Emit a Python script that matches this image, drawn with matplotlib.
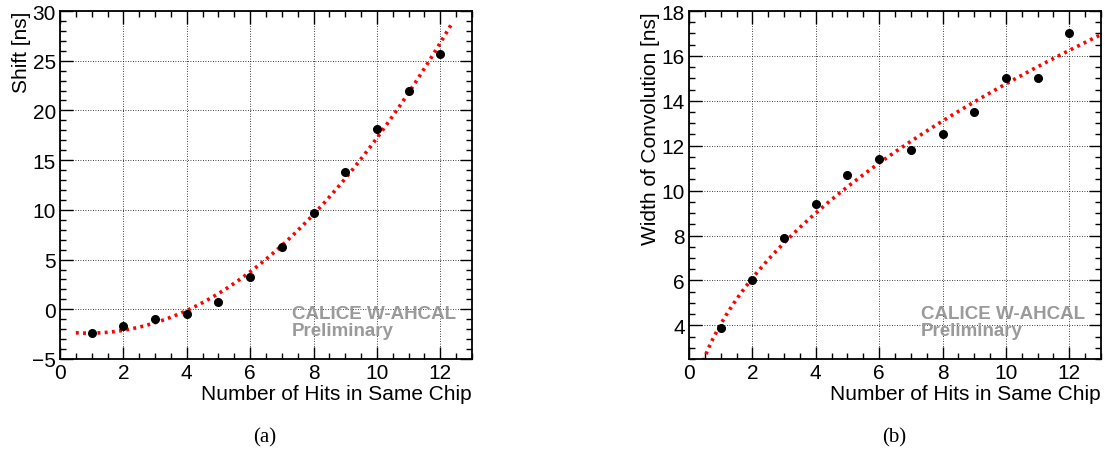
import numpy as np
import matplotlib.pyplot as plt
from matplotlib.ticker import MultipleLocator

plt.rcParams['font.family'] = ['Liberation Sans', 'DejaVu Sans']

# data
n_hits = [1, 2, 3, 4, 5, 6, 7, 8, 9, 10, 11, 12]
shift = [-2.4, -1.7, -1.0, -0.5, 0.75, 3.2, 6.3, 9.7, 13.8, 18.1, 22.0, 25.7]
width = [3.9, 6.0, 7.9, 9.4, 10.7, 11.4, 11.8, 12.5, 13.5, 15.0, 15.0, 17.0]

# fit parameters (estimated from the drawn curves)
shift_fit = dict(a=0.237, x0=0.9, c=-2.4, xmin=0.5, xmax=12.4)   # a*(x-x0)^2 + c
width_fit = dict(a=4.95, c=-0.9, xmin=0.3, xmax=13.0)           # a*sqrt(x) + c

fig = plt.figure(figsize=(11.05, 4.52), dpi=100)
ax1 = fig.add_axes([60 / 1105, 92 / 452, 412 / 1105, 348 / 452])
ax2 = fig.add_axes([689 / 1105, 92 / 452, 412 / 1105, 348 / 452])


def style(ax, ymaj, ymin):
    ax.xaxis.set_major_locator(MultipleLocator(2))
    ax.xaxis.set_minor_locator(MultipleLocator(0.5))
    ax.yaxis.set_major_locator(MultipleLocator(ymaj))
    ax.yaxis.set_minor_locator(MultipleLocator(ymin))
    ax.tick_params(which='both', direction='in', top=True, right=True, labelsize=15, width=1)
    ax.tick_params(which='major', length=9, pad=3)
    ax.tick_params(which='minor', length=4.5)
    ax.grid(True, which='major', color='black', linestyle=(0, (1, 2)), linewidth=0.6)
    for s in ax.spines.values():
        s.set_linewidth(1.3)
    ax.set_axisbelow(True)


def watermark(ax):
    ax.text(0.563, 0.155, 'CALICE W-AHCAL\nPreliminary', transform=ax.transAxes,
            color='#9a9a9a', fontsize=13.5, fontweight='bold', va='top', ha='left', linespacing=1.0)


# (a) shift
xf = np.linspace(shift_fit['xmin'], shift_fit['xmax'], 200)
ax1.plot(xf, shift_fit['a'] * (xf - shift_fit['x0']) ** 2 + shift_fit['c'],
         color='red', linestyle=(0, (0.8, 1.2)), linewidth=2.6, zorder=2)
ax1.plot(n_hits, shift, 'o', color='black', markersize=5.5, zorder=3)
ax1.set_xlim(0, 13)
ax1.set_ylim(-5, 30)
style(ax1, 5, 1)
ax1.set_xlabel('Number of Hits in Same Chip', fontsize=15, loc='right', labelpad=1)
ax1.set_ylabel('Shift [ns]', fontsize=15, loc='top', labelpad=1)
watermark(ax1)

# (b) width of convolution
xf = np.linspace(width_fit['xmin'], width_fit['xmax'], 200)
ax2.plot(xf, width_fit['a'] * np.sqrt(xf) + width_fit['c'],
         color='red', linestyle=(0, (0.8, 1.2)), linewidth=2.6, zorder=2)
ax2.plot(n_hits, width, 'o', color='black', markersize=5.5, zorder=3)
ax2.set_xlim(0, 13)
ax2.set_ylim(2.5, 18)
style(ax2, 2, 0.5)
ax2.set_xlabel('Number of Hits in Same Chip', fontsize=15, loc='right', labelpad=1)
ax2.set_ylabel('Width of Convolution [ns]', fontsize=15, loc='top', labelpad=1)
watermark(ax2)

fig.text(265 / 1105, 1 - 438 / 452, '(a)', family='Liberation Serif', fontsize=15, ha='center', va='center')
fig.text(894 / 1105, 1 - 438 / 452, '(b)', family='Liberation Serif', fontsize=15, ha='center', va='center')

fig.savefig('out.png', dpi=100)
